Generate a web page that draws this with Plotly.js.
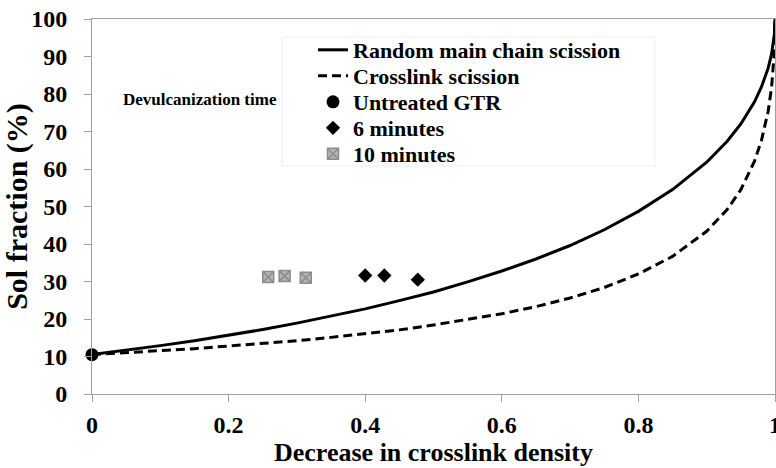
<!DOCTYPE html>
<html>
<head>
<meta charset="utf-8">
<script src="https://cdn.plot.ly/plotly-3.0.1.min.js"></script>
<style>html,body{margin:0;padding:0;background:#fff;}#chart{width:776px;height:468px;}</style>
</head>
<body>
<div id="chart"></div>
<script>
// Decrease in crosslink density (x) for the model curves
const decrease = [0, 0.05, 0.1, 0.15, 0.2, 0.25, 0.3, 0.35, 0.4, 0.45, 0.5, 0.55, 0.6, 0.65, 0.7, 0.75, 0.8, 0.85, 0.9, 0.93, 0.95, 0.97, 0.98, 0.99, 0.995, 0.999, 1];
// Sol fraction (%) - random main chain scission
const randomSol = [10.5, 11.6, 12.9, 14.2, 15.6, 17.2, 18.9, 20.7, 22.7, 24.9, 27.2, 29.9, 32.8, 36.0, 39.6, 43.8, 48.7, 54.5, 61.8, 67.4, 72.0, 77.9, 81.8, 86.9, 90.7, 95.8, 100];
// Sol fraction (%) - crosslink scission
const crosslinkSol = [10.5, 11.0, 11.5, 12.1, 12.8, 13.5, 14.2, 15.1, 16.1, 17.1, 18.4, 19.8, 21.4, 23.3, 25.6, 28.4, 32.0, 36.7, 43.4, 49.2, 54.5, 62.1, 67.5, 75.4, 81.8, 91.3, 100];
// Measured points
const untreatedX = [0];
const untreatedY = [10.5];
const min6X = [0.400, 0.428, 0.477];
const min6Y = [31.6, 31.6, 30.5];
const min10X = [0.258, 0.282, 0.313];
const min10Y = [31.2, 31.5, 31.0];
const xTicks = [0, 0.2, 0.4, 0.6, 0.8, 1];
const yTicks = [0, 10, 20, 30, 40, 50, 60, 70, 80, 90, 100];

const FONT = 'Liberation Serif, Times New Roman, serif';

const traces = [
  {x: decrease, y: randomSol, name: 'Random main chain scission', mode: 'lines',
   line: {color: '#000', width: 3}, cliponaxis: false, legend: 'legend'},
  {x: decrease, y: crosslinkSol, name: 'Crosslink scission', mode: 'lines',
   line: {color: '#000', width: 3, dash: '9px,5px'}, cliponaxis: false, legend: 'legend2'},
  {x: untreatedX, y: untreatedY, name: 'Untreated GTR', mode: 'markers',
   marker: {symbol: 'circle', size: 13, color: '#000'}, cliponaxis: false, legend: 'legend3'},
  {x: min6X, y: min6Y, name: '6 minutes', mode: 'markers',
   marker: {symbol: 'diamond', size: 11, color: '#000'}, cliponaxis: false, legend: 'legend4'},
  {x: min10X, y: min10Y, name: '10 minutes', mode: 'markers',
   marker: {symbol: 'square-x', size: 11, color: '#b4b4b4', line: {color: '#8c8c8c', width: 1.5}}, cliponaxis: false, legend: 'legend5'}
];

function legendAt(yPix) {
  return {
    x: (313 - 92) / 683, y: (394 - yPix) / 375, xanchor: 'left', yanchor: 'middle',
    bgcolor: 'rgba(0,0,0,0)', borderwidth: 0,
    font: {family: FONT, size: 22, color: '#000', weight: 'bold'},
    itemwidth: 30, tracegroupgap: 0
  };
}

const layout = {
  width: 776, height: 468,
  margin: {l: 92, r: 1, t: 19, b: 74},
  paper_bgcolor: '#fff', plot_bgcolor: '#fff',
  font: {family: FONT, color: '#000'},
  showlegend: true,
  legend: legendAt(50),
  legend2: legendAt(76),
  legend3: legendAt(102),
  legend4: legendAt(128),
  legend5: legendAt(154),
  xaxis: {
    range: [0, 1], tickvals: xTicks, ticktext: xTicks.map(String),
    showgrid: false, zeroline: false,
    showline: true, linecolor: '#a0a0a0', linewidth: 1, mirror: true,
    ticks: 'outside', ticklen: 7, tickcolor: '#a0a0a0', tickwidth: 1,
    ticklabelstandoff: 2, ticklabeloverflow: 'allow',
    tickfont: {family: FONT, size: 24, color: '#000', weight: 'bold'},
    title: {text: 'Decrease in crosslink density', standoff: 4,
            font: {family: FONT, size: 26, color: '#000', weight: 'bold'}}
  },
  yaxis: {
    range: [0, 100], tickvals: yTicks, ticktext: yTicks.map(String),
    showgrid: false, zeroline: false,
    showline: true, linecolor: '#a0a0a0', linewidth: 1, mirror: true,
    ticks: 'outside', ticklen: 7, tickcolor: '#a0a0a0', tickwidth: 1,
    ticklabelstandoff: 12,
    tickfont: {family: FONT, size: 24, color: '#000', weight: 'bold'},
    title: {text: 'Sol fraction (%)', standoff: 1,
            font: {family: FONT, size: 30, color: '#000', weight: 'bold'}}
  },
  shapes: [
    {type: 'rect', xref: 'paper', yref: 'paper', layer: 'below',
     x0: (282 - 92) / 683, x1: (655 - 92) / 683,
     y0: (394 - 166) / 375, y1: (394 - 37) / 375,
     line: {color: '#eeeeee', width: 1}, fillcolor: '#fff'}
  ],
  annotations: [
    {text: 'Devulcanization time', xref: 'paper', yref: 'paper',
     x: (200 - 92) / 683, y: (394 - 100) / 375, showarrow: false,
     xanchor: 'center', yanchor: 'middle',
     font: {family: FONT, size: 17, color: '#000', weight: 'bold'}}
  ]
};

Plotly.newPlot('chart', traces, layout, {displayModeBar: false, staticPlot: true});
</script>
</body>
</html>
